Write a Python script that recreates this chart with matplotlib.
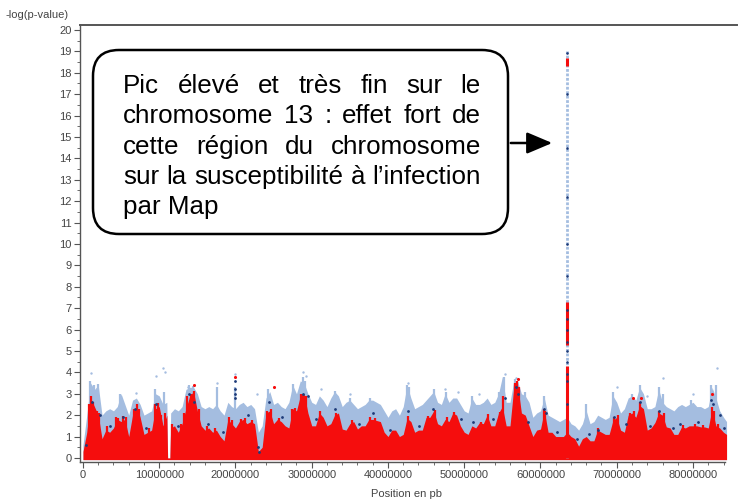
import matplotlib
matplotlib.use("Agg")
import matplotlib.pyplot as plt
from matplotlib.patches import FancyBboxPatch, FancyArrowPatch
from matplotlib.transforms import Affine2D
from matplotlib.ticker import MultipleLocator, FixedLocator
import numpy as np

plt.rcParams['font.family'] = ['Liberation Sans', 'DejaVu Sans']

# ---------------- data (positions in Mb, values = -log(p)) ----------------
pos_mb = [0.0, 0.5, 1.0, 1.5, 2.0, 2.5, 3.0, 3.5, 4.0, 4.5, 5.0, 5.5, 6.0, 6.5, 7.0, 7.5,
          8.0, 8.5, 9.0, 9.5, 10.0, 10.5, 11.0, 11.1, 11.4, 11.5, 12.0, 12.5, 13.0, 13.5,
          14.0, 14.5, 15.0, 15.5, 16.0, 16.5, 17.0, 17.5, 18.0, 18.5, 19.0, 19.5, 20.0,
          20.5, 21.0, 21.5, 22.0, 22.5, 23.0, 23.5, 24.0, 24.5, 25.0, 25.5, 26.0, 26.5,
          27.0, 27.5, 28.0, 28.5, 29.0, 29.5, 30.0, 30.5, 31.0, 31.5, 32.0, 32.5, 33.0,
          33.5, 34.0, 34.5, 35.0, 35.5, 36.0, 36.5, 37.0, 37.5, 38.0, 38.5, 39.0, 39.5,
          40.0, 40.5, 41.0, 41.5, 42.0, 42.5, 43.0, 43.5, 44.0, 44.5, 45.0, 45.5, 46.0,
          46.5, 47.0, 47.5, 48.0, 48.5, 49.0, 49.5, 50.0, 50.5, 51.0, 51.5, 52.0, 52.5,
          53.0, 53.5, 54.0, 54.5, 55.0, 55.5, 56.0, 56.5, 57.0, 57.5, 58.0, 58.5, 59.0,
          59.5, 60.0, 60.5, 61.0, 61.5, 62.0, 62.5, 63.0, 63.5, 64.0, 64.5, 65.0, 65.5,
          66.0, 66.5, 67.0, 67.5, 68.0, 68.5, 69.0, 69.5, 70.0, 70.5, 71.0, 71.5, 72.0,
          72.5, 73.0, 73.5, 74.0, 74.5, 75.0, 75.5, 76.0, 76.5, 77.0, 77.5, 78.0, 78.5,
          79.0, 79.5, 80.0, 80.5, 81.0, 81.5, 82.0, 82.5, 83.0, 83.5, 84.0, 84.4]

red_top = [0.3, 1.2, 2.8, 2.4, 2.0, 0.9, 1.3, 1.2, 1.4, 1.8, 1.7, 1.8, 1.0, 2.0, 2.45, 1.9,
           1.1, 1.2, 1.3, 2.3, 2.4, 1.5, 2.0, 0.0, 0.0, 1.4, 1.5, 1.2, 1.6, 2.3,
           2.9, 3.1, 2.2, 1.5, 1.3, 1.4, 1.2, 1.3, 1.0, 0.8, 1.8, 1.6, 1.4,
           1.7, 1.8, 1.6, 1.7, 1.6, 0.3, 0.5, 2.1, 2.2, 1.6, 1.8, 1.7, 1.5,
           1.4, 2.3, 2.2, 2.9, 3.0, 2.1, 1.5, 1.5, 2.1, 1.9, 1.5, 1.6, 2.0,
           2.1, 1.35, 1.3, 1.6, 1.7, 1.35, 1.5, 1.5, 1.8, 1.8, 1.75, 1.7, 1.2,
           1.0, 1.3, 1.3, 1.0, 1.1, 1.85, 1.7, 1.2, 1.3, 1.3, 1.9, 1.9, 2.2,
           1.6, 1.5, 1.8, 1.7, 2.1, 2.0, 1.5, 1.2, 1.1, 1.5, 1.4, 1.65, 1.6,
           2.0, 1.5, 1.5, 2.1, 2.4, 1.5, 1.5, 3.3, 3.4, 2.1, 2.0, 1.5, 1.0,
           1.3, 1.35, 2.2, 1.2, 1.2, 1.0, 1.0, 1.0, 1.2, 1.0, 0.9, 0.55, 0.9,
           1.0, 0.8, 0.8, 1.3, 1.2, 1.1, 1.1, 1.75, 1.9, 1.3, 1.2, 2.0, 2.1,
           1.9, 2.45, 2.3, 1.3, 1.4, 1.65, 2.1, 2.0, 1.45, 1.4, 1.1, 1.1, 1.45,
           1.4, 1.5, 1.5, 1.5, 1.45, 1.45, 1.4, 2.3, 1.5, 1.4, 1.2, 1.1]

blue_top = [0.6, 2.0, 3.5, 3.2, 3.4, 2.0, 2.2, 2.3, 2.2, 2.4, 3.0, 2.5, 2.0, 2.7, 2.8, 2.5,
            2.0, 2.1, 2.2, 3.0, 2.9, 2.5, 2.6, 0.0, 0.0, 2.1, 2.3, 2.2, 2.4, 3.2,
            3.3, 3.3, 3.0, 2.4, 2.3, 2.4, 2.3, 2.5, 2.2, 2.0, 2.6, 2.4, 2.3,
            2.5, 2.6, 2.4, 2.5, 2.3, 1.2, 1.5, 2.8, 3.1, 2.5, 2.6, 2.4, 2.3,
            2.6, 3.4, 3.0, 3.6, 3.5, 3.0, 2.6, 2.5, 2.9, 2.7, 2.4, 2.8, 3.1,
            2.9, 2.4, 2.6, 2.7, 2.5, 2.3, 2.4, 2.5, 2.7, 2.7, 2.6, 2.5, 2.2,
            1.9, 2.2, 2.3, 2.0, 2.4, 3.4, 2.8, 2.3, 2.4, 2.5, 2.7, 2.9, 3.1,
            2.6, 2.5, 3.0, 2.6, 2.8, 2.8, 2.5, 2.2, 2.1, 2.8, 2.5, 2.5, 2.6,
            2.8, 2.5, 2.6, 3.0, 3.8, 2.6, 2.6, 3.6, 3.6, 3.0, 2.9, 2.6, 1.9,
            2.1, 2.2, 2.8, 2.0, 1.9, 1.8, 1.7, 1.8, 1.9, 1.6, 1.5, 1.3, 1.6,
            2.2, 1.6, 1.7, 2.0, 1.9, 1.8, 1.9, 2.9, 2.6, 2.1, 2.3, 2.8, 2.9,
            2.7, 3.3, 3.0, 2.3, 2.3, 2.4, 3.2, 2.6, 2.4, 2.3, 2.2, 2.4, 2.5,
            2.4, 2.5, 2.6, 2.4, 2.4, 2.3, 2.4, 3.3, 2.8, 2.2, 1.9, 1.7]

# narrow red columns rising above the red mass
red_spike_pos = [0.8, 1.1, 1.3, 1.8, 2.1, 3.2, 4.3, 4.6, 5.2, 5.6, 6.7, 7.1, 7.3, 8.7, 9.4,
                 9.9, 10.2, 10.8, 11.7, 12.9, 13.3, 13.7, 14.2, 14.6, 15.2, 16.2, 17.3, 19.1,
                 19.6, 20.7, 21.3, 22.2, 24.1, 24.6, 25.7, 27.4, 27.8, 28.6, 28.9, 29.2, 31.1,
                 33.2, 35.3, 37.7, 38.3, 42.6, 45.2, 46.1, 47.7, 48.6, 52.2, 53.1, 54.7, 55.1,
                 56.6, 56.9, 57.2, 60.4, 60.6, 67.6, 69.7, 70.1, 71.8, 72.3, 73.1, 75.6, 76.2,
                 78.7, 80.2, 81.3, 82.5, 82.7, 83.3]
red_spike_val = [2.5, 2.9, 2.6, 2.2, 2.1, 1.5, 1.9, 1.85, 1.95, 1.9, 2.3, 2.5, 2.3, 1.4, 2.5,
                 2.55, 2.0, 2.1, 1.6, 1.6, 2.1, 2.9, 3.0, 3.15, 2.3, 1.5, 1.4, 1.9,
                 1.75, 1.8, 1.85, 1.75, 2.2, 2.3, 1.85, 2.3, 2.35, 3.0, 3.0, 2.9, 2.2,
                 2.1, 1.75, 1.9, 1.85, 1.95, 1.95, 2.25, 1.9, 2.15, 1.7, 2.05, 2.15, 2.9,
                 3.5, 3.6, 3.3, 2.3, 2.2, 1.4, 1.9, 2.0, 2.1, 2.2, 2.6, 2.2, 2.1,
                 1.55, 1.6, 1.55, 2.4, 2.2, 1.6]

# narrow light-blue columns rising above the light-blue cloud
blue_spike_pos = [0.9, 1.4, 2.0, 4.9, 9.5, 10.6, 13.9, 14.4, 17.6, 19.9, 24.3, 27.6, 28.8,
                  29.1, 33.0, 35.0, 37.6, 42.5, 42.7, 46.0, 47.6, 51.0, 54.6, 55.2, 56.7,
                  58.0, 60.5, 66.0, 69.5, 72.0, 73.1, 75.5, 76.0, 79.7, 82.4, 83.0]
blue_spike_val = [3.6, 3.4, 3.45, 3.0, 3.2, 3.1, 3.4, 3.35, 3.3, 3.3, 3.2, 3.45, 3.8,
                  3.6, 3.15, 2.8, 2.8, 3.4, 3.3, 3.2, 3.1, 2.9, 3.1, 3.8, 3.7,
                  3.1, 2.9, 2.5, 3.1, 3.0, 3.4, 3.3, 3.0, 2.7, 3.4, 3.4]

# isolated light-blue SNPs above the cloud
out_blue_pos = [1.0, 9.6, 10.5, 10.7, 19.9, 28.9, 29.2, 42.6, 55.4, 56.8, 76.0, 83.2,
                7.0, 13.8, 17.6, 22.8, 31.2, 35.0, 47.5, 49.2, 52.0, 70.0, 74.0, 80.0]
out_blue_val = [3.95, 3.85, 4.2, 4.0, 3.9, 4.0, 3.85, 3.5, 3.9, 3.75, 3.75, 4.2,
                3.05, 3.3, 3.5, 3.0, 3.2, 3.0, 3.2, 3.1, 3.0, 3.3, 2.9, 3.0]

# dark-blue SNPs
dark_pos = [0.4, 1.2, 2.2, 5.3, 9.6, 13.9, 14.6, 19.9, 19.9, 19.95, 20.0, 22.9, 23.1,
            24.4, 28.9, 29.5, 33.0, 38.0, 42.6, 45.9, 51.2, 55.3, 56.8, 57.0, 60.5,
            60.7, 67.5, 69.6, 73.1, 75.6, 78.3, 82.4, 82.6, 83.5,
            3.6, 6.8, 8.2, 12.4, 16.4, 18.3, 21.6, 26.1, 30.6, 36.2, 40.3, 44.1, 49.6,
            53.8, 58.4, 62.1, 64.8, 66.4, 71.2, 74.3, 77.4, 80.6, 84.1]
dark_val = [0.6, 2.6, 2.0, 1.9, 2.5, 3.0, 2.6, 3.6, 3.2, 2.8, 3.0, 0.5, 0.3,
            2.6, 3.0, 2.9, 2.3, 2.1, 2.2, 2.3, 1.7, 2.8, 3.3, 3.0, 2.3,
            2.1, 1.3, 1.9, 2.6, 2.2, 1.6, 2.7, 2.5, 2.0,
            1.5, 2.3, 1.4, 1.5, 1.6, 1.2, 2.0, 1.9, 1.8, 1.6, 1.3, 1.5, 1.8,
            1.8, 1.7, 1.2, 0.9, 1.1, 1.6, 1.5, 1.4, 1.7, 1.4]

# red SNPs standing out above the red mass
out_red_pos = [14.5, 20.0, 25.0, 57.0, 82.5, 72.1, 73.2]
out_red_val = [3.4, 3.8, 3.3, 3.7, 3.0, 2.8, 2.8]

# chromosome 13 peak
peak_pos_mb = 63.5
peak_top = 19.0
peak_red_lo = [0.0, 5.3, 18.3]
peak_red_hi = [4.3, 7.3, 18.7]
peak_dark_val = [18.9, 17.0, 14.5, 12.2, 10.0, 8.5, 6.9, 6.5, 6.0, 5.4, 5.0, 4.5, 3.9, 3.6, 2.5]

x_ticks = [0, 10000000, 20000000, 30000000, 40000000, 50000000, 60000000, 70000000, 80000000]
y_ticks = list(range(0, 21))

LIGHT = '#a4bde0'
RED = '#f50d0d'
DARK = '#1d3a78'
MB = 1e6

# ---------------- figure ----------------
fig = plt.figure(figsize=(7.42, 5.04), dpi=100)
ax = fig.add_axes([80 / 742, 42 / 504, 657 / 742, 437 / 504])

px = np.array(pos_mb) * MB
ax.fill_between(px, -0.08, blue_top, color=LIGHT, lw=0, zorder=1)
ax.vlines(np.array(blue_spike_pos) * MB, 0, blue_spike_val, color=LIGHT, lw=1.6, zorder=1)
ax.fill_between(px, -0.08, red_top, color=RED, lw=0, zorder=2)
ax.vlines(np.array(red_spike_pos) * MB, 0, red_spike_val, color=RED, lw=1.6, zorder=2)
ax.scatter(np.array(out_blue_pos) * MB, out_blue_val, s=3, color=LIGHT, lw=0, zorder=3)
ax.scatter(np.array(dark_pos) * MB, dark_val, s=4, color=DARK, lw=0, zorder=4)
ax.scatter(np.array(out_red_pos) * MB, out_red_val, s=5, color=RED, lw=0, zorder=4)

ax.vlines(peak_pos_mb * MB, 0, peak_top, color=LIGHT, lw=2.0, linestyles=(0, (1, 0.6)), zorder=3)
ax.vlines([peak_pos_mb * MB] * len(peak_red_lo), peak_red_lo, peak_red_hi, color=RED, lw=2.2, zorder=4)
ax.scatter([peak_pos_mb * MB] * len(peak_dark_val), peak_dark_val, s=3.5, color=DARK, lw=0, zorder=5)

ax.set_xlim(-0.39 * MB, 85.77 * MB)
ax.set_ylim(-0.19, 20.23)

ax.spines['right'].set_visible(False)
for s in ['left', 'bottom', 'top']:
    ax.spines[s].set_color('#555555')
    ax.spines[s].set_linewidth(1.0)
ax.spines['top'].set_linewidth(1.4)
ax.spines['bottom'].set_bounds(-0.39 * MB, 84.2 * MB)

ax.xaxis.set_major_locator(FixedLocator(x_ticks))
ax.set_xticklabels([str(v) for v in x_ticks])
ax.xaxis.set_minor_locator(MultipleLocator(2 * MB))
ax.yaxis.set_major_locator(FixedLocator(y_ticks))
ax.set_yticklabels([str(v) for v in y_ticks])
ax.yaxis.set_minor_locator(MultipleLocator(0.5))
ax.tick_params(which='major', direction='out', length=4, width=0.8, color='#555555',
               labelsize=8, labelcolor='#444444', pad=2)
ax.tick_params(which='minor', direction='out', length=2, width=0.6, color='#555555')
ax.tick_params(top=False, right=False)

fig.text(5 / 742, 1 - 15 / 504, '-log(p-value)', fontsize=8, color='#444444', va='center', ha='left')
fig.text(407 / 742, 1 - 494 / 504, 'Position en pb', fontsize=8, color='#444444', va='center', ha='center')

# ---------------- annotation box ----------------
pix = Affine2D().scale(1 / 100) + fig.dpi_scale_trans  # figure pixels (origin bottom-left)
box_l, box_r, box_t, box_b = 93, 508, 50, 234
box = FancyBboxPatch((box_l, 504 - box_b), box_r - box_l, box_b - box_t,
                     boxstyle='round,pad=0,rounding_size=26', transform=pix,
                     facecolor='white', edgecolor='black', lw=1.8, zorder=10)
fig.patches.append(box)

arrow = FancyArrowPatch((box_r, 504 - 143), (555, 504 - 143), transform=pix,
                        arrowstyle='-|>,head_length=1.3,head_width=0.55', mutation_scale=12,
                        color='black', lw=1.8, zorder=10)
fig.patches.append(arrow)

lines = ["Pic élevé et très fin sur le",
         "chromosome 13 : effet fort de",
         "cette région du chromosome",
         "sur la susceptibilité à l’infection",
         "par Map"]
text_l, text_r = 123, 481
base0, dy = 93, 30.3
renderer = fig.canvas.get_renderer()

# choose font size so the longest line fills the text width
probe = fig.text(0, 0, lines[3], fontsize=10)
w10 = probe.get_window_extent(renderer).width
probe.remove()
fs = 10 * (text_r - text_l) / w10

for i, line in enumerate(lines):
    yb = 504 - (base0 + i * dy)
    words = line.split(' ')
    if i == len(lines) - 1:
        fig.text(text_l, yb, line, transform=pix, fontsize=fs, ha='left', va='baseline', zorder=11)
        continue
    ts = [fig.text(0, yb, w, transform=pix, fontsize=fs, ha='left', va='baseline', zorder=11) for w in words]
    widths = [t.get_window_extent(renderer).width for t in ts]
    gap = (text_r - text_l - sum(widths)) / max(len(words) - 1, 1)
    x = text_l
    for t, w in zip(ts, widths):
        t.set_x(x)
        x += w + gap

fig.savefig('out.png', dpi=100)
